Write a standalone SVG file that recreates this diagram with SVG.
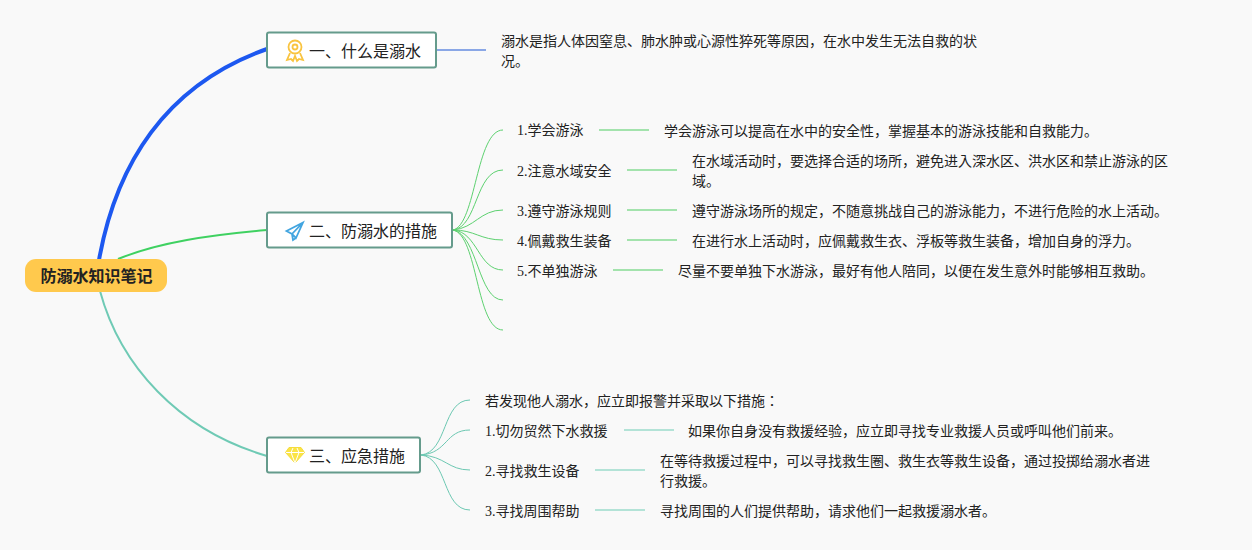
<svg xmlns="http://www.w3.org/2000/svg" width="1252" height="550" viewBox="0 0 1252 550">
<style>
text{font-family:"Liberation Serif","Noto Sans CJK JP",sans-serif;fill:#222}
.t{font-size:14px}
.h{font-size:16px;font-family:"Noto Sans CJK JP",sans-serif}
.d{font-size:14px}
.b{fill:#fff;stroke:#659b8c;stroke-width:2}
.g{fill:none;stroke:#5dd170;stroke-width:1}
.gl{fill:none;stroke:#a3e3ad;stroke-width:2}
.c{fill:none;stroke:#6cc8b2;stroke-width:1}
.cl{fill:none;stroke:#b3e3d7;stroke-width:2}
</style>
<rect width="1252" height="550" fill="#f9f9f9"/>
<g id="connectors">
<path d="M99 260C116 165 165 85 267 49" fill="none" stroke="#1d58f0" stroke-width="4"/>
<path d="M118 259C160 242 210 235 267 230" fill="none" stroke="#3fd161" stroke-width="2"/>
<path d="M100 291C120 365 178 430 267 456" fill="none" stroke="#6fcab5" stroke-width="2"/>
<path d="M437 50H486" fill="none" stroke="#8aa7e6" stroke-width="2"/>
<path class="g" d="M453 230C476 225 476 130 503 130"/>
<path class="g" d="M453 230C478 227 475 170 503 170"/>
<path class="g" d="M453 230C475 228 480 210 503 210"/>
<path class="g" d="M453 230C475 230 480 240 503 240"/>
<path class="g" d="M453 230C478 232 478 270 503 270"/>
<path class="g" d="M453 230C478 235 478 300 503 300"/>
<path class="g" d="M453 230C478 235 476 330 503 330"/>
<path class="gl" d="M599 130H649M627 170H677M627 210H677M627 240H677M613 270H663"/>
<path class="c" d="M421 455C448 452 442 400 470 400"/>
<path class="c" d="M421 455C448 453 445 430 470 430"/>
<path class="c" d="M421 455C445 456 448 470 470 470"/>
<path class="c" d="M421 455C448 458 442 510 470 510"/>
<path class="cl" d="M624 430H674M595 470H645M595 510H645"/>
</g>
<g id="root"><rect x="25" y="259" width="142" height="33" rx="11" fill="#ffc94d"/><text x="96.500" y="281.500" text-anchor="middle" style="font-size:16px;font-weight:bold;font-family:'Noto Sans CJK JP',sans-serif">防溺水知识笔记</text></g>
<g id="n1"><rect class="b" x="267" y="32.500" width="169" height="35" rx="2"/>
<g fill="none" stroke="#f9c440" stroke-width="1.800"><circle cx="295" cy="47" r="6.500"/><circle cx="295" cy="47" r="2.500"/><path d="M290 53L287 60L291 59L293 61L295 56L297 61L299 59L303 60L300 53"/></g>
<text class="h" x="309" y="57">一、什么是溺水</text></g>
<g id="d1"><text class="d" x="501" y="46">溺水是指人体因窒息、肺水肿或心源性猝死等原因，在水中发生无法自救的状</text><text class="d" x="501" y="66">况。</text></g>
<g id="n2"><rect class="b" x="267" y="212.500" width="185" height="35" rx="2"/>
<path d="M303 222.500L286.500 231L292 234L296 238L303 222.500ZM303 222.500L292 234L293 240L296 238" fill="none" stroke="#42a5e0" stroke-width="1.800"/>
<text class="h" x="309" y="237">二、防溺水的措施</text></g>
<g id="n2-1"><text class="t" x="517" y="135">1.学会游泳</text><text class="d" x="664" y="136">学会游泳可以提高在水中的安全性，掌握基本的游泳技能和自救能力。</text></g>
<g id="n2-2"><text class="t" x="517" y="176">2.注意水域安全</text><text class="d" x="692" y="166">在水域活动时，要选择合适的场所，避免进入深水区、洪水区和禁止游泳的区</text><text class="d" x="692" y="186">域。</text></g>
<g id="n2-3"><text class="t" x="517" y="216">3.遵守游泳规则</text><text class="d" x="692" y="216">遵守游泳场所的规定，不随意挑战自己的游泳能力，不进行危险的水上活动。</text></g>
<g id="n2-4"><text class="t" x="517" y="246">4.佩戴救生装备</text><text class="d" x="692" y="246">在进行水上活动时，应佩戴救生衣、浮板等救生装备，增加自身的浮力。</text></g>
<g id="n2-5"><text class="t" x="517" y="276">5.不单独游泳</text><text class="d" x="678" y="276">尽量不要单独下水游泳，最好有他人陪同，以便在发生意外时能够相互救助。</text></g>
<g id="n3"><rect class="b" x="267" y="437.500" width="153" height="35" rx="2"/>
<path d="M289 447.500H301L304.500 452.500L295 463L285.500 452.500Z" fill="#fbe445" stroke="#f5dc3c"/>
<path d="M286 452.500H304M291 452.500L295 463L299 452.500M291 452.500L293 448M299 452.500L297 448" fill="none" stroke="#fff" stroke-width="1"/>
<text class="h" x="309" y="462">三、应急措施</text></g>
<g id="n3-0"><text class="d" x="485" y="406">若发现他人溺水，应立即报警并采取以下措施：</text></g>
<g id="n3-1"><text class="t" x="485" y="436">1.切勿贸然下水救援</text><text class="d" x="688" y="436">如果你自身没有救援经验，应立即寻找专业救援人员或呼叫他们前来。</text></g>
<g id="n3-2"><text class="t" x="485" y="476">2.寻找救生设备</text><text class="d" x="660" y="466">在等待救援过程中，可以寻找救生圈、救生衣等救生设备，通过投掷给溺水者进</text><text class="d" x="660" y="486">行救援。</text></g>
<g id="n3-3"><text class="t" x="485" y="516">3.寻找周围帮助</text><text class="d" x="660" y="516">寻找周围的人们提供帮助，请求他们一起救援溺水者。</text></g>
</svg>
